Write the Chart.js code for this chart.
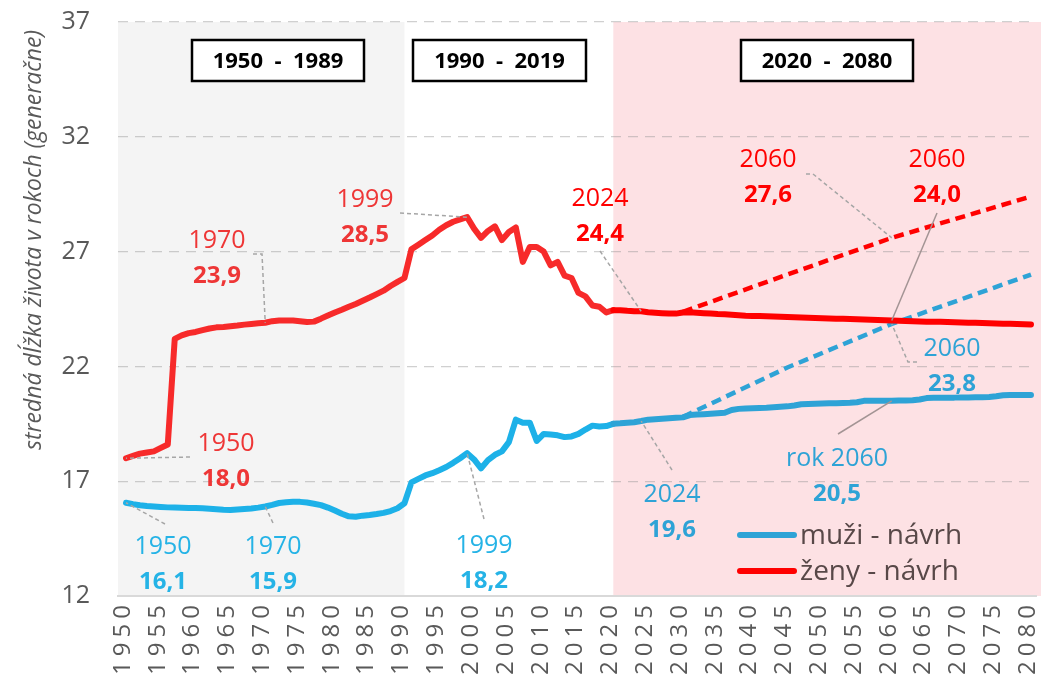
<!DOCTYPE html>
<html>
<head>
<meta charset="utf-8">
<script src="https://cdn.jsdelivr.net/npm/chart.js@4.4.1/dist/chart.umd.min.js"></script>
<style>
  html, body { margin: 0; padding: 0; background: #fff; }
  #wrap { width: 1058px; height: 683px; }
</style>
</head>
<body>
<div id="wrap"><canvas id="chart" width="1058" height="683"></canvas></div>
<script>
// yearly categories 1950 - 2080
const years = Array.from({ length: 131 }, (_, i) => 1950 + i);
const tickYears = [1950, 1955, 1960, 1965, 1970, 1975, 1980, 1985, 1990, 1995, 2000, 2005, 2010,
  2015, 2020, 2025, 2030, 2035, 2040, 2045, 2050, 2055, 2060, 2065, 2070, 2075, 2080];
const yTicks = [12, 17, 22, 27, 32, 37];

// zeny - navrh (1950..2080)
const zeny = [
  18.0, 18.1, 18.2, 18.25, 18.3, 18.45, 18.6, 23.2, 23.35, 23.45,
  23.5, 23.58, 23.65, 23.7, 23.72, 23.75, 23.78, 23.82, 23.85, 23.88,
  23.9, 23.97, 24.0, 24.0, 24.0, 23.97, 23.93, 23.95, 24.08, 24.22,
  24.35, 24.47, 24.6, 24.72, 24.86, 25.0, 25.15, 25.3, 25.5, 25.68,
  25.85, 27.1, 27.3, 27.5, 27.7, 27.95, 28.15, 28.3, 28.4, 28.5,
  28.0, 27.6, 27.9, 28.1, 27.5, 27.85, 28.05, 26.55, 27.2, 27.2,
  27.0, 26.4, 26.55, 25.95, 25.85, 25.2, 25.05, 24.65, 24.6, 24.35,
  24.45, 24.45, 24.42, 24.4, 24.4, 24.36, 24.34, 24.32, 24.3, 24.3,
  24.35, 24.36, 24.34, 24.32, 24.3, 24.28, 24.27, 24.25, 24.23, 24.21,
  24.2, 24.19, 24.18, 24.17, 24.16, 24.15, 24.14, 24.13, 24.12, 24.11,
  24.1, 24.09, 24.08, 24.07, 24.06, 24.05, 24.04, 24.03, 24.02, 24.01,
  24.0, 23.99, 23.98, 23.97, 23.96, 23.95, 23.95, 23.94, 23.93, 23.92,
  23.91, 23.9, 23.9, 23.89, 23.88, 23.87, 23.86, 23.86, 23.85, 23.84,
  23.83
];

// muzi - navrh (1950..2080)
const muzi = [
  16.06, 16.0, 15.95, 15.92, 15.9, 15.88, 15.86, 15.85, 15.84, 15.83,
  15.83, 15.82, 15.8, 15.78, 15.76, 15.75, 15.77, 15.79, 15.81, 15.85,
  15.9, 15.97, 16.05, 16.08, 16.1, 16.1, 16.07, 16.02, 15.96, 15.85,
  15.72, 15.58, 15.47, 15.45, 15.5, 15.53, 15.57, 15.62, 15.7, 15.82,
  16.04, 16.95, 17.1, 17.25, 17.35, 17.48, 17.62, 17.8, 18.0, 18.22,
  17.95, 17.56, 17.92, 18.15, 18.3, 18.7, 19.68, 19.55, 19.55, 18.75,
  19.06, 19.03, 19.0, 18.92, 18.95, 19.06, 19.25, 19.42, 19.38, 19.4,
  19.5, 19.52, 19.55, 19.57, 19.62, 19.68, 19.7, 19.72, 19.74, 19.76,
  19.78, 19.88, 19.9, 19.92, 19.94, 19.96, 19.98, 20.1, 20.15, 20.17,
  20.18, 20.19, 20.2, 20.22, 20.24, 20.26, 20.3, 20.35, 20.36, 20.37,
  20.38, 20.39, 20.4, 20.41, 20.42, 20.44, 20.5, 20.5, 20.5, 20.5,
  20.5, 20.51, 20.52, 20.53, 20.56, 20.62, 20.63, 20.63, 20.64, 20.64,
  20.65, 20.65, 20.66, 20.66, 20.67, 20.7, 20.74, 20.75, 20.75, 20.75,
  20.75
];

// dashed scenario lines (straight, read at a few years)
const scenYears = [2030, 2045, 2060, 2080];
const zenyScen = [24.38, 26.0, 27.6, 29.4];
const muziScen = [19.8, 21.95, 23.85, 26.0];

const periodLabels = ['1950  -  1989', '1990  -  2019', '2020  -  2080'];
const periodStarts = [1990, 2020];

const BLUE = '#2ea3d6', BLUE_OLD = '#1db1e8';
const RED = '#ff0000', RED_OLD = '#f72a2a';
const GREY_TXT = '#595959';
const FONT = "'Open Sans', sans-serif";

// annotations: anchor = [series, year], text pos and leader elbows in px
const notes = [
  { s: zeny, yr: 1950, top: '1950', val: '18,0', c: '#ee3636', tx: 226, ty: 442, path: [[190, 457]], dash: true },
  { s: zeny, yr: 1970, top: '1970', val: '23,9', c: '#ee3636', tx: 217, ty: 239, path: [[253, 254], [262, 254]], dash: true },
  { s: zeny, yr: 1999, top: '1999', val: '28,5', c: '#ee3636', tx: 365, ty: 198, path: [[400, 213]], dash: true },
  { s: zeny, yr: 2024, top: '2024', val: '24,4', c: RED, tx: 600, ty: 197, path: [[600, 251]], dash: true },
  { scen: zenyScen, yr: 2060, top: '2060', val: '27,6', c: RED, tx: 768, ty: 158, path: [[806, 174], [813, 174]], dash: true },
  { s: zeny, yr: 2060, top: '2060', val: '24,0', c: RED, tx: 937, ty: 158, path: [[937, 213]], dash: false },
  { s: muzi, yr: 1950, top: '1950', val: '16,1', c: '#25b3e6', tx: 163, ty: 545, path: [[165, 524]], dash: true },
  { s: muzi, yr: 1970, top: '1970', val: '15,9', c: '#25b3e6', tx: 273, ty: 545, path: [[273, 523]], dash: true },
  { s: muzi, yr: 1999, top: '1999', val: '18,2', c: '#25b3e6', tx: 484, ty: 544, path: [[484, 519]], dash: true },
  { s: muzi, yr: 2024, top: '2024', val: '19,6', c: BLUE, tx: 672, ty: 493, path: [[672, 470]], dash: true },
  { s: muzi, yr: 2060, top: 'rok 2060', val: '20,5', c: BLUE, tx: 837, ty: 457, path: [[838, 434]], dash: false },
  { scen: muziScen, yr: 2060, top: '2060', val: '23,8', c: BLUE, tx: 952, ty: 347, path: [[917, 362], [908, 362]], dash: true }
];

const decor = {
  id: 'decor',
  beforeDraw(chart) {
    const { ctx, chartArea: a, scales: { x } } = chart;
    const p1 = x.getPixelForValue(periodStarts[0]);
    const p2 = x.getPixelForValue(periodStarts[1]);
    ctx.save();
    ctx.fillStyle = '#f4f4f4';
    ctx.fillRect(a.left, a.top, p1 - a.left, a.bottom - a.top);
    ctx.fillStyle = '#fde1e4';
    ctx.fillRect(p2, a.top, a.right + 5 - p2, a.bottom - a.top);
    ctx.restore();
  },
  afterDraw(chart) {
    const { ctx, chartArea: a, scales: { x, y } } = chart;
    ctx.save();

    // x tick labels, rotated, a bit letter-spaced like the original
    ctx.font = `24px ${FONT}`;
    ctx.fillStyle = GREY_TXT;
    ctx.textAlign = 'right';
    ctx.textBaseline = 'middle';
    ctx.letterSpacing = '5px';
    tickYears.forEach(v => {
      ctx.save();
      ctx.translate(x.getPixelForValue(v) - 3, a.bottom + 9);
      ctx.rotate(-Math.PI / 2);
      ctx.fillText(String(v), 5, 0);
      ctx.restore();
    });
    ctx.letterSpacing = '0px';

    // axis title
    ctx.translate(34, 240);
    ctx.rotate(-Math.PI / 2);
    ctx.font = `italic 23px ${FONT}`;
    ctx.fillStyle = GREY_TXT;
    ctx.textAlign = 'center';
    ctx.textBaseline = 'middle';
    ctx.fillText('stredná dĺžka života v rokoch (generačne)', 0, 0);
    ctx.setTransform(1, 0, 0, 1, 0, 0);

    // period boxes
    const boxes = [[192, 364], [413, 586], [741, 913]];
    boxes.forEach(([l, r], i) => {
      ctx.fillStyle = '#fff';
      ctx.fillRect(l, 40, r - l, 41);
      ctx.lineWidth = 2.5;
      ctx.strokeStyle = '#000';
      ctx.strokeRect(l, 40, r - l, 41);
      ctx.fillStyle = '#000';
      ctx.font = `bold 22px ${FONT}`;
      ctx.textAlign = 'center';
      ctx.textBaseline = 'alphabetic';
      ctx.fillText(periodLabels[i], (l + r) / 2, 68);
    });

    // annotations
    notes.forEach(n => {
      let val;
      if (n.scen) val = n.scen[scenYears.indexOf(n.yr)];
      else val = n.s[years.indexOf(n.yr)];
      const px = x.getPixelForValue(n.yr), py = y.getPixelForValue(val);
      ctx.beginPath();
      ctx.moveTo(n.path[0][0], n.path[0][1]);
      n.path.slice(1).forEach(p => ctx.lineTo(p[0], p[1]));
      ctx.lineTo(px, py);
      ctx.lineWidth = 1.5;
      ctx.strokeStyle = n.dash ? '#a6a6a6' : '#a39494';
      ctx.setLineDash(n.dash ? [4, 3] : []);
      ctx.stroke();
      ctx.setLineDash([]);
      ctx.fillStyle = n.c;
      ctx.textAlign = 'center';
      ctx.textBaseline = 'alphabetic';
      ctx.font = `25px ${FONT}`;
      ctx.fillText(n.top, n.tx, n.ty + 9);
      ctx.font = `bold 24px ${FONT}`;
      ctx.fillText(n.val, n.tx, n.ty + 35 + 9);
    });

    // legend (solid series only)
    chart.data.datasets.slice(0, 2).forEach((ds, i) => {
      const ly = 535 + i * 36;
      ctx.beginPath();
      ctx.moveTo(740, ly);
      ctx.lineTo(794, ly);
      ctx.lineWidth = 6;
      ctx.lineCap = 'round';
      ctx.strokeStyle = ds.legendColor;
      ctx.stroke();
      ctx.fillStyle = '#584848';
      ctx.font = `28px ${FONT}`;
      ctx.textAlign = 'left';
      ctx.textBaseline = 'alphabetic';
      ctx.fillText(ds.label, 800, ly + 9);
    });
    ctx.restore();
  }
};

Chart.defaults.font.family = FONT;

new Chart(document.getElementById('chart'), {
  type: 'line',
  data: {
    labels: years,
    datasets: [
      {
        label: 'muži - návrh', data: muzi, legendColor: BLUE,
        borderColor: BLUE, borderWidth: 6, pointRadius: 0, tension: 0,
        borderJoinStyle: 'round', borderCapStyle: 'round', order: 1,
        segment: { borderColor: c => (c.p0.parsed.x >= 2020 ? BLUE : BLUE_OLD) }
      },
      {
        label: 'ženy - návrh', data: zeny, legendColor: RED,
        borderColor: RED, borderWidth: 6, pointRadius: 0, tension: 0,
        borderJoinStyle: 'round', borderCapStyle: 'round', order: 1,
        segment: { borderColor: c => (c.p0.parsed.x >= 2020 ? RED : RED_OLD) }
      },
      {
        label: 'muži - scenár', data: scenYears.map((yr, i) => ({ x: yr, y: muziScen[i] })),
        borderColor: BLUE, borderWidth: 4.5, borderDash: [10, 6], borderCapStyle: 'butt',
        pointRadius: 0, tension: 0, order: 2
      },
      {
        label: 'ženy - scenár', data: scenYears.map((yr, i) => ({ x: yr, y: zenyScen[i] })),
        borderColor: RED, borderWidth: 4.5, borderDash: [10, 6], borderCapStyle: 'butt',
        pointRadius: 0, tension: 0, order: 2
      }
    ]
  },
  options: {
    responsive: false,
    animation: false,
    events: [],
    layout: { padding: { top: 22, right: 22, left: 0, bottom: 0 } },
    plugins: { legend: { display: false }, tooltip: { enabled: false } },
    scales: {
      x: {
        type: 'linear',
        min: 1948.85,
        max: 2080.72,
        afterBuildTicks: s => { s.ticks = tickYears.map(v => ({ value: v })); },
        afterFit: s => { s.height = 87; },
        grid: { display: false },
        border: { display: true, color: '#d9d9d9', width: 2 },
        ticks: { display: false }
      },
      y: {
        min: 12,
        max: 37,
        afterBuildTicks: s => { s.ticks = yTicks.map(v => ({ value: v })); },
        afterFit: s => { s.width = 118; s.paddingTop = 0; s.paddingBottom = 0; },
        grid: {
          drawTicks: false, lineWidth: 1.3,
          color: c => (c.tick && c.tick.value === 12 ? 'rgba(0,0,0,0)' : 'rgba(150,150,150,0.45)')
        },
        border: { display: false, dash: [10, 7] },
        ticks: { padding: 28, color: GREY_TXT, font: { size: 25 } }
      }
    }
  },
  plugins: [decor]
});
</script>
</body>
</html>
